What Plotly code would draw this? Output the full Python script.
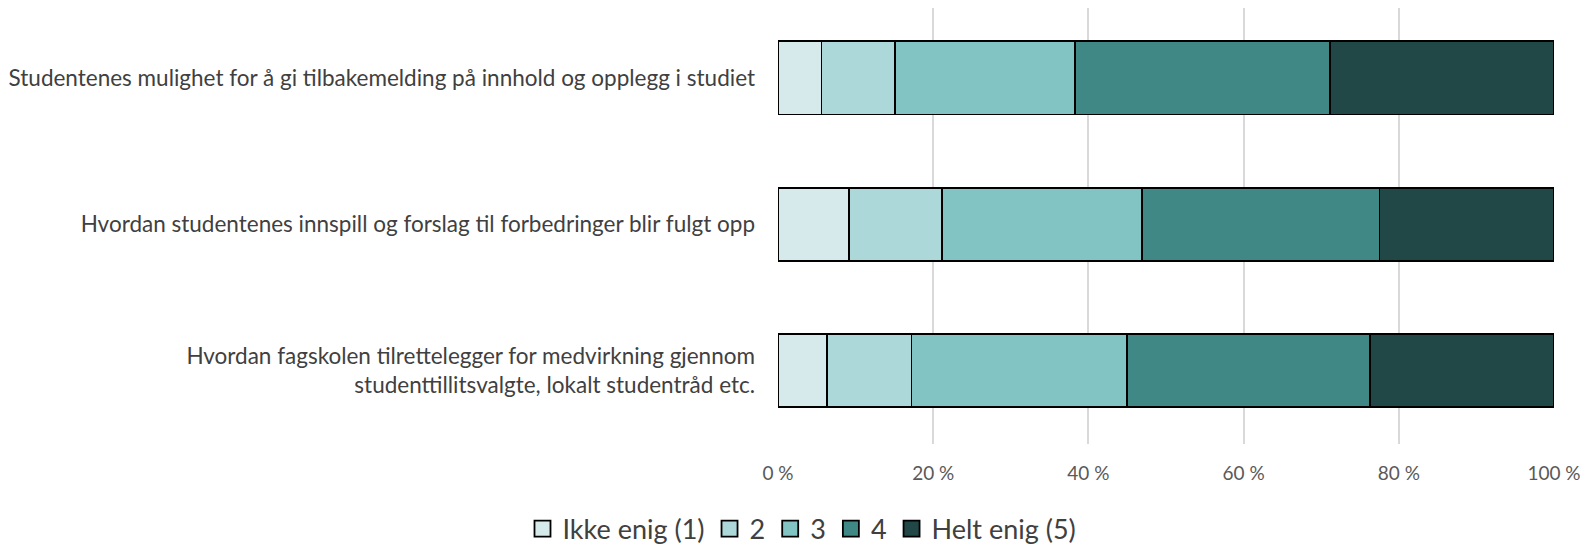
import plotly.graph_objects as go

categories = [
    "Studentenes mulighet for å gi tilbakemelding på innhold og opplegg i studiet",
    "Hvordan studentenes innspill og forslag til forbedringer blir fulgt opp",
    "Hvordan fagskolen tilrettelegger for medvirkning gjennom<br>studenttillitsvalgte, lokalt studentråd etc.",
]
series_names = ["Ikke enig (1)", "2", "3", "4", "Helt enig (5)"]
values = {
    "Ikke enig (1)": [5.6, 9.2, 6.3],
    "2": [9.5, 11.9, 10.9],
    "3": [23.2, 25.8, 27.8],
    "4": [32.8, 30.6, 31.3],
    "Helt enig (5)": [28.9, 22.5, 23.7],
}
colors = ["#D6EAEC", "#ADD8D9", "#82C4C3", "#3F8886", "#214746"]
tick_vals = [0, 20, 40, 60, 80, 100]
tick_text = ["0 %", "20 %", "40 %", "60 %", "80 %", "100 %"]

FONT = "Lato, 'Open Sans', sans-serif"

fig = go.Figure()
for name, col in zip(series_names, colors):
    fig.add_trace(go.Bar(
        y=categories, x=values[name], name=name, orientation="h",
        marker=dict(color=col, line=dict(color="#000000", width=1.8)),
        showlegend=False,
    ))
# legend entries with larger outlined square symbols
for name, col in zip(series_names, colors):
    fig.add_trace(go.Scatter(
        x=[None], y=[None], mode="markers", name=name,
        marker=dict(symbol="square", size=17, color=col,
                    line=dict(color="#000000", width=1.8)),
        showlegend=True,
    ))

fig.update_layout(
    barmode="stack",
    bargap=0.5,
    width=1588, height=540,
    margin=dict(l=770, r=42, t=0, b=104),
    paper_bgcolor="white", plot_bgcolor="white",
    font=dict(family=FONT, size=22, color="#404040"),
    xaxis=dict(range=[0, 100], tickvals=tick_vals, ticktext=tick_text,
               showgrid=True, gridcolor="#D9D9D9", gridwidth=1.5,
               zeroline=False, showline=False, ticks="",
               ticklabelstandoff=16, tickfont=dict(size=19, color="#595959")),
    yaxis=dict(range=[2.5, -0.477], showgrid=False, zeroline=False,
               showline=False, ticks="", ticklabelstandoff=22,
               tickfont=dict(size=22.5, color="#404040")),
    legend=dict(orientation="h", xref="container", x=0.5, xanchor="center",
                yref="container", y=0.035, yanchor="middle",
                font=dict(size=27, color="#404040"), traceorder="normal",
                itemwidth=30),
    showlegend=True,
)

fig.write_html("out.html")
